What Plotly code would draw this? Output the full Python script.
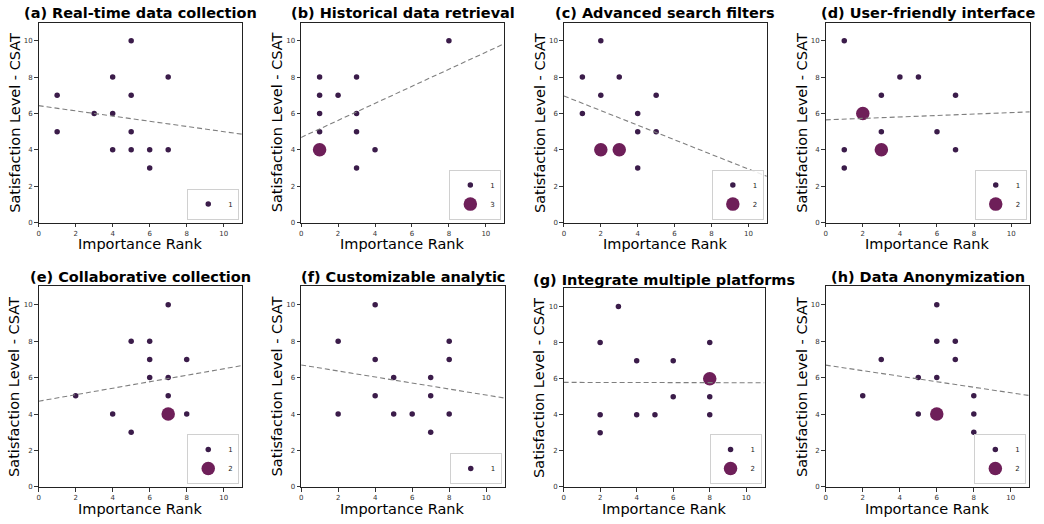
import numpy as np
import plotly.graph_objects as go

# ---------------- data ----------------
titles = ["(a) Real-time data collection", "(b) Historical data retrieval",
          "(c) Advanced search filters", "(d) User-friendly interface",
          "(e) Collaborative collection", "(f) Customizable analytic",
          "(g) Integrate multiple platforms", "(h) Data Anonymization"]

rank_a = [1, 1, 3, 4, 4, 4, 5, 5, 5, 5, 6, 6, 7, 7]
csat_a = [7, 5, 6, 8, 6, 4, 10, 7, 5, 4, 4, 3, 8, 4]
count_a = [1, 1, 1, 1, 1, 1, 1, 1, 1, 1, 1, 1, 1, 1]

rank_b = [1, 1, 1, 1, 1, 2, 3, 3, 3, 3, 4, 8]
csat_b = [8, 7, 6, 5, 4, 7, 8, 6, 5, 3, 4, 10]
count_b = [1, 1, 1, 1, 3, 1, 1, 1, 1, 1, 1, 1]

rank_c = [1, 1, 2, 2, 2, 3, 3, 4, 4, 4, 5, 5]
csat_c = [8, 6, 10, 7, 4, 8, 4, 6, 5, 3, 7, 5]
count_c = [1, 1, 1, 1, 2, 1, 2, 1, 1, 1, 1, 1]

rank_d = [1, 1, 1, 2, 3, 3, 3, 4, 5, 6, 7, 7]
csat_d = [10, 4, 3, 6, 7, 5, 4, 8, 8, 5, 7, 4]
count_d = [1, 1, 1, 2, 1, 1, 2, 1, 1, 1, 1, 1]

rank_e = [2, 4, 5, 5, 6, 6, 6, 7, 7, 7, 7, 8, 8]
csat_e = [5, 4, 8, 3, 8, 7, 6, 10, 6, 5, 4, 7, 4]
count_e = [1, 1, 1, 1, 1, 1, 1, 1, 1, 1, 2, 1, 1]

rank_f = [2, 2, 4, 4, 4, 5, 5, 6, 7, 7, 7, 8, 8, 8]
csat_f = [8, 4, 10, 7, 5, 6, 4, 4, 6, 5, 3, 8, 7, 4]
count_f = [1, 1, 1, 1, 1, 1, 1, 1, 1, 1, 1, 1, 1, 1]

rank_g = [2, 2, 2, 3, 4, 4, 5, 6, 6, 8, 8, 8, 8]
csat_g = [8, 4, 3, 10, 7, 4, 4, 7, 5, 8, 6, 5, 4]
count_g = [1, 1, 1, 1, 1, 1, 1, 1, 1, 1, 2, 1, 1]

rank_h = [2, 3, 5, 5, 6, 6, 6, 6, 7, 7, 8, 8, 8]
csat_h = [5, 7, 6, 4, 10, 8, 6, 4, 8, 7, 5, 4, 3]
count_h = [1, 1, 1, 1, 1, 1, 1, 2, 1, 1, 1, 1, 1]

panels = [(rank_a, csat_a, count_a), (rank_b, csat_b, count_b),
          (rank_c, csat_c, count_c), (rank_d, csat_d, count_d),
          (rank_e, csat_e, count_e), (rank_f, csat_f, count_f),
          (rank_g, csat_g, count_g), (rank_h, csat_h, count_h)]

tick_vals = [0, 2, 4, 6, 8, 10]
AXIS_MAX = 11

# ---------------- layout helpers ----------------
W, H = 1044, 524
# pixel boxes: left, right, top, bottom
boxes = [(36.7, 240.7, 22.7, 224.3), (299.7, 503.3, 22.7, 224.3),
         (563.0, 766.3, 22.7, 224.3), (825.3, 1029.7, 22.7, 224.3),
         (36.7, 240.7, 288.7, 490.7), (299.7, 503.7, 288.7, 490.7),
         (562.7, 764.0, 290.7, 490.7), (825.3, 1029.3, 288.7, 490.7)]
title_y = [12.7, 12.7, 12.7, 12.7, 278.7, 278.7, 282.0, 278.7]

SMALL_COL, LARGE_COL = "#3b1c4a", "#6e1f59"
SMALL_SIZE, LARGE_SIZE = 5.5, 13.5
FONT = "DejaVu Sans"

fig = go.Figure()
layout = dict(width=W, height=H, margin=dict(l=0, r=0, t=0, b=0),
              paper_bgcolor="white", plot_bgcolor="white", showlegend=True,
              annotations=[])

for i, ((rk, cs, ct), box) in enumerate(zip(panels, boxes)):
    l, r, t, b = box
    sfx = "" if i == 0 else str(i + 1)
    xa, ya = "x" + sfx, "y" + sfx
    leg = "legend" if i == 0 else "legend" + str(i + 1)
    rk, cs, ct = np.array(rk), np.array(cs), np.array(ct)
    cmin = ct.min()
    for c in sorted(set(ct.tolist())):
        m = ct == c
        big = (c != cmin)
        fig.add_trace(go.Scatter(
            x=rk[m], y=cs[m], mode="markers", name=str(c),
            xaxis=xa, yaxis=ya, legend=leg,
            marker=dict(size=LARGE_SIZE if big else SMALL_SIZE,
                        color=LARGE_COL if big else SMALL_COL,
                        line=dict(width=0)),
            hoverinfo="x+y"))
    # weighted linear fit over expanded responses
    xs = np.repeat(rk, ct)
    ys = np.repeat(cs, ct)
    slope, intercept = np.polyfit(xs, ys, 1)
    lx = np.array([0, AXIS_MAX])
    fig.add_trace(go.Scatter(
        x=lx, y=intercept + slope * lx, mode="lines", xaxis=xa, yaxis=ya,
        showlegend=False, hoverinfo="skip",
        line=dict(color="#7f7f7f", width=1.1, dash="5px,3px")))

    axcommon = dict(range=[0, AXIS_MAX], tickvals=tick_vals, showgrid=False,
                    zeroline=False, showline=True, linecolor="#222222",
                    linewidth=1.2, mirror=True, ticks="outside", ticklen=3.5,
                    tickwidth=0.8, tickcolor="#333333",
                    tickfont=dict(family=FONT, size=7, color="#333333"),
                    fixedrange=True)
    layout["xaxis" + sfx] = dict(domain=[l / W, r / W], anchor=ya, **axcommon)
    layout["yaxis" + sfx] = dict(domain=[1 - b / H, 1 - t / H], anchor=xa, **axcommon)

    layout[leg] = dict(x=(r - 3) / W, y=1 - (b - 3) / H, xanchor="right",
                       yanchor="bottom", xref="paper", yref="paper",
                       bgcolor="rgba(255,255,255,0.85)", bordercolor="#d0d0d0",
                       borderwidth=1, font=dict(family=FONT, size=7, color="#222222"),
                       itemsizing="trace", itemwidth=30, tracegroupgap=0)

    cx = (l + r) / 2
    cy = (t + b) / 2
    layout["annotations"].append(dict(
        text="<b>" + titles[i] + "</b>", x=cx / W, y=1 - title_y[i] / H,
        xref="paper", yref="paper", xanchor="center", yanchor="middle",
        showarrow=False, font=dict(family=FONT, size=14.5, color="black")))
    layout["annotations"].append(dict(
        text="Importance Rank", x=cx / W, y=1 - (b + 22) / H,
        xref="paper", yref="paper", xanchor="center", yanchor="middle",
        showarrow=False, font=dict(family=FONT, size=14.5, color="black")))
    layout["annotations"].append(dict(
        text="Satisfaction Level - CSAT", x=(l - 24.5) / W, y=1 - cy / H,
        xref="paper", yref="paper", xanchor="center", yanchor="middle",
        textangle=-90, showarrow=False,
        font=dict(family=FONT, size=14.5, color="black")))

fig.update_layout(**layout)
fig.write_html("out.html", config={"displayModeBar": False},
               post_script="document.body.style.margin='0';document.body.style.overflow='hidden';")
